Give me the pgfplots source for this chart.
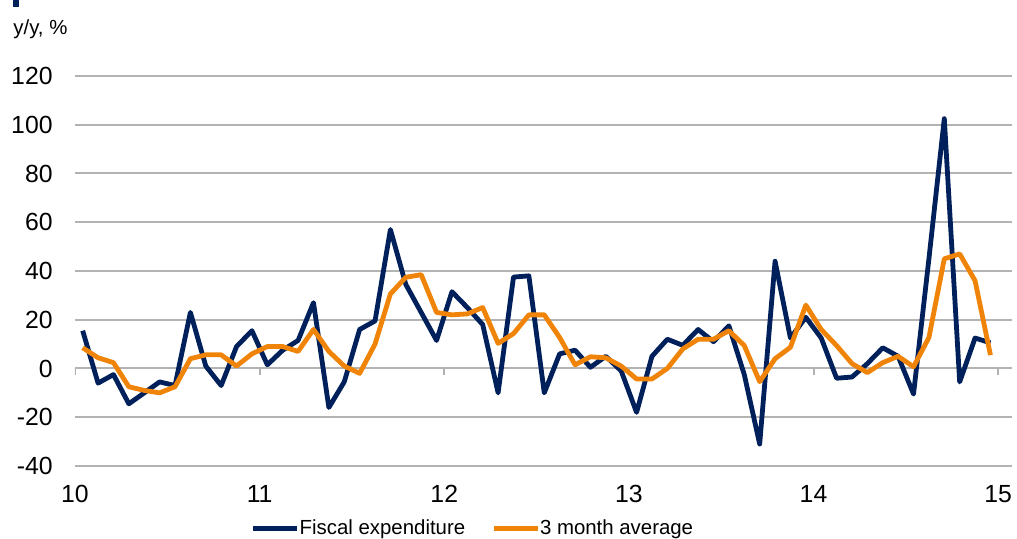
\documentclass[border=0pt]{standalone}
\usepackage{pgfplots}
\pgfplotsset{compat=1.18}
\usepackage{pgfplotstable}
\usepackage{fontspec}
\setmainfont{Liberation Sans}
\definecolor{navy}{RGB}{0,32,91}
\definecolor{orng}{RGB}{240,132,8}
\definecolor{gridc}{RGB}{179,179,179}
\pgfplotstableread{
x y
0.5 15.5
1.5 -6
2.5 -2.5
3.5 -14.5
4.5 -10
5.5 -5.5
6.5 -7
7.5 23
8.5 1
9.5 -7
10.5 9
11.5 15.5
12.5 1.5
13.5 7.5
14.5 11.5
15.5 27
16.5 -16
17.5 -5.5
18.5 16
19.5 19.5
20.5 57
21.5 34.5
22.5 23
23.5 11.5
24.5 31.5
25.5 25
26.5 18
27.5 -10
28.5 37.5
29.5 38
30.5 -10
31.5 6
32.5 7.5
33.5 0.5
34.5 5
35.5 -1
36.5 -18
37.5 5
38.5 12
39.5 9.5
40.5 16
41.5 11
42.5 17.5
43.5 -2.5
44.5 -31
45.5 44
46.5 12.5
47.5 21
48.5 12.5
49.5 -4
50.5 -3.5
51.5 2
52.5 8.5
53.5 5
54.5 -10.5
55.5 45
56.5 102.5
57.5 -5.5
58.5 12.5
59.5 10.5
}\fiscal
\pgfplotstableread{
x y
0.5 8.5
1.5 4.4
2.5 2.4
3.5 -7.5
4.5 -9
5.5 -10
6.5 -7.5
7.5 4
8.5 5.6
9.5 5.6
10.5 1
11.5 6
12.5 9
13.5 9
14.5 7
15.5 16
16.5 7
17.5 1
18.5 -2
19.5 10
20.5 30.6
21.5 37.4
22.5 38.5
23.5 23
24.5 22
25.5 22.4
26.5 25
27.5 10.3
28.5 14.3
29.5 22
30.5 22
31.5 12.7
32.5 1.5
33.5 4.8
34.5 4.4
35.5 1
36.5 -4.3
37.5 -4.3
38.5 0
39.5 8
40.5 12
41.5 12
42.5 15.5
43.5 9.4
44.5 -5.4
45.5 4
46.5 8.7
47.5 26
48.5 16
49.5 9.4
50.5 2
51.5 -1.7
52.5 2.4
53.5 5
54.5 0.7
55.5 12.7
56.5 45
57.5 47
58.5 36
59.5 5.5
}\avg
\begin{document}
\begin{tikzpicture}
\begin{axis}[name=ax, scale only axis, width=468.5pt, height=195pt,
  xmin=0, xmax=60.9, ymin=-40, ymax=120,
  ytick={-40,-20,...,120},
  xtick={0,12,24,36,48,60}, xticklabels={10,11,12,13,14,15},
  ymajorgrids, grid style={gridc, line width=1pt},
  axis line style={draw=none},
  major tick length=0pt,
  /pgf/number format/assume math mode=true,
  tick label style={font=\fontsize{12.4}{14}\selectfont},
  yticklabel style={anchor=east, inner xsep=0pt, xshift=-11pt},
  xticklabel style={anchor=north, inner ysep=0pt, yshift=-9.5pt},
  legend columns=-1,
  legend style={at={(0.4237,-0.160)}, anchor=center, draw=none, fill=none,
    font=\fontsize{10.2}{12}\selectfont, inner sep=0pt,
    nodes={inner xsep=0pt},
    /tikz/every even column/.append style={column sep=13pt}},
  legend image code/.code={\draw[#1] (0pt,0pt) -- (22pt,0pt);},
]
\draw[gridc, line width=1pt] (axis cs:0,0) -- (axis cs:60.9,0);
\pgfplotsinvokeforeach{0,12,24,36,48,60}{\draw[gridc, line width=1pt] (axis cs:#1,0) -- ([yshift=-3.5pt]axis cs:#1,0);}
\addplot[navy, line width=2.4pt, line join=round, no markers] table {\fiscal};
\addlegendentry{Fiscal expenditure}
\addplot[orng, line width=2.4pt, line join=round, no markers] table {\avg};
\addlegendentry{3 month average}
\end{axis}
\node[anchor=base west, font=\fontsize{10.2}{12}\selectfont, inner sep=0pt] at ([shift={(-31pt,20.75pt)}]ax.north west) {y/y, \%};
\fill[navy] ([shift={(-31pt,34.5pt)}]ax.north west) rectangle ([shift={(-28pt,39pt)}]ax.north west);
\pgfresetboundingbox
\path[use as bounding box] ([shift={(-37.5pt,-36.5pt)}]ax.south west) rectangle ([shift={(2.5pt,38pt)}]ax.north east);
\end{tikzpicture}
\end{document}
